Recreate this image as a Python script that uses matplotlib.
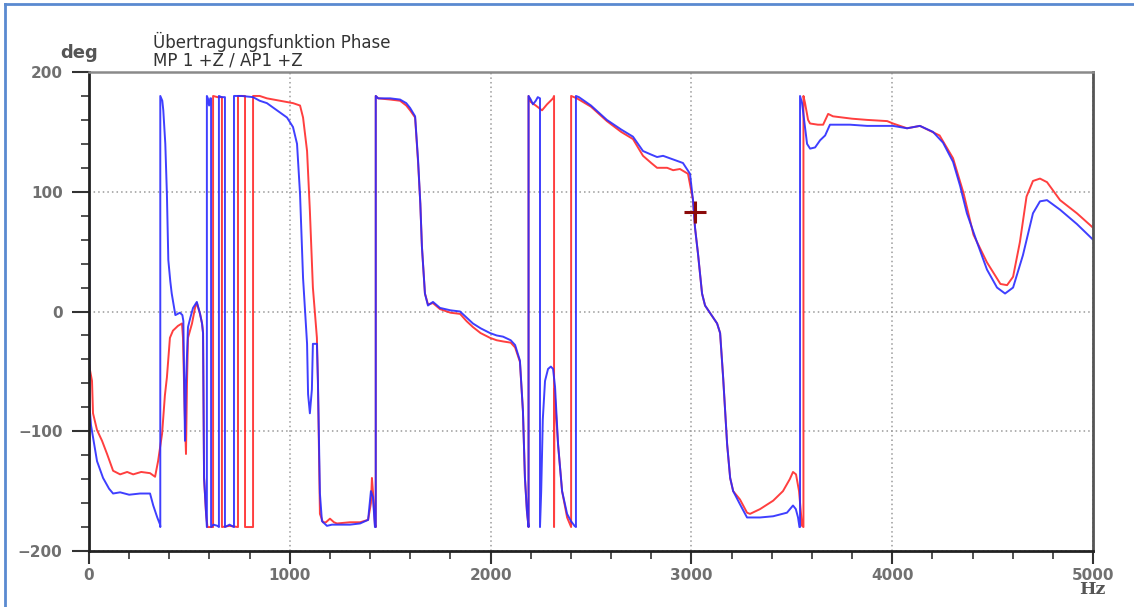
import matplotlib
matplotlib.use('Agg')
import matplotlib.pyplot as plt
from matplotlib.lines import Line2D
import numpy as np

# Frequenz (Hz) und Phase (deg); Sprünge +-180 als Doppelpunkte
blue_f = [0, 3, 10, 20, 40, 70, 100, 120, 155, 200, 254, 304, 320, 340, 354, 355, 355,
          365, 370, 380, 388, 395, 405, 412, 430, 453, 465, 470, 478, 483, 493, 505, 518,
          537, 553, 563, 568, 573, 583, 587, 587, 592, 598, 604, 608, 608, 620, 640, 647,
          647, 660, 677, 677, 700, 722, 722, 760, 817, 850, 886, 936, 986, 1016, 1036,
          1051, 1066, 1086, 1091, 1100, 1105, 1110, 1115, 1135, 1140, 1150, 1160, 1185,
          1210, 1235, 1300, 1350, 1390, 1404, 1414, 1424, 1428, 1428, 1440, 1500, 1549,
          1580, 1599, 1624, 1639, 1650, 1658, 1673, 1688, 1713, 1748, 1800, 1848, 1880,
          1912, 1950, 1997, 2030, 2062, 2100, 2122, 2146, 2161, 2171, 2181, 2189, 2189,
          2200, 2211, 2225, 2235, 2246, 2246, 2252, 2260, 2271, 2286, 2300, 2311, 2321,
          2336, 2356, 2381, 2400, 2418, 2425, 2425, 2440, 2500, 2579, 2650, 2709, 2759,
          2800, 2829, 2859, 2909, 2958, 2993, 3008, 3018, 3033, 3053, 3068, 3100, 3128,
          3143, 3158, 3178, 3193, 3208, 3242, 3277, 3342, 3407, 3476, 3506, 3520, 3531,
          3538, 3541, 3541, 3551, 3566, 3576, 3591, 3616, 3641, 3666, 3690, 3790, 3875,
          4004, 4074, 4138, 4203, 4253, 4303, 4338, 4372, 4422, 4472, 4522, 4562, 4602,
          4651, 4701, 4736, 4771, 4836, 4920, 5000]
blue_p = [120, -80, -95, -105, -125, -139, -148, -152, -151, -153, -152, -152, -162, -172, -178, -180, 180,
          176, 168, 140, 98, 43, 25, 15, -3, -1, -3, -8, -108, -60, -13, -5, 3,
          8, -2, -10, -18, -139, -169, -180, 180, 178, 172, 178, 178, -180, -178, -179, -180,
          180, 179, 179, -180, -178, -180, 180, 180, 179, 176, 174, 168, 162, 154, 140,
          98, 28, -27, -69, -85, -75, -65, -27, -27, -58, -152, -175, -179,
          -178, -178, -178, -177, -174, -150, -155, -180, -180, 180, 178, 178, 177,
          174, 170, 163, 126, 90, 54, 15, 5, 8, 3, 1, 0, -5,
          -10, -14, -18, -20, -21, -24, -28, -41, -83, -139, -167, -180, 180,
          177, 173, 176, 179, 178, -180, -150, -90, -58, -48, -46, -48, -63,
          -111, -150, -169, -175, -179, -180, 180, 179, 172, 160, 152, 146, 134,
          131, 129, 130, 127, 124, 115, 93, 70, 48, 15, 5, -3, -10,
          -18, -55, -111, -139, -150, -161, -172, -172, -171, -168, -162, -165, -172,
          -180, -180, 180, 174, 154, 140, 136, 137, 143, 147, 156, 156, 155,
          155, 153, 155, 150, 141, 125, 105, 82, 58, 35, 20, 15, 20,
          47, 82, 92, 93, 85, 73, 60]

red_f = [2, 5, 15, 20, 40, 65, 90, 120, 155, 190, 220, 260, 304, 329, 344, 364, 378, 388,
         403, 418, 443, 463, 468, 476, 483, 488, 493, 513, 528, 537, 553, 563, 568, 573,
         583, 590, 618, 618, 640, 662, 662, 700, 742, 742, 760, 777, 777, 800, 817, 817,
         850, 886, 951, 1016, 1051, 1066, 1086, 1100, 1115, 1135, 1140, 1150, 1165, 1180,
         1200, 1220, 1235, 1300, 1350, 1390, 1404, 1409, 1414, 1424, 1428, 1428, 1440,
         1500, 1549, 1580, 1599, 1624, 1639, 1650, 1658, 1673, 1688, 1713, 1748, 1800,
         1848, 1880, 1912, 1950, 1997, 2030, 2062, 2100, 2122, 2146, 2161, 2171, 2181,
         2189, 2189, 2200, 2225, 2256, 2281, 2311, 2316, 2316, 2318, 2336, 2356, 2381,
         2396, 2401, 2401, 2430, 2500, 2579, 2650, 2709, 2759, 2800, 2829, 2879, 2909,
         2943, 2983, 3008, 3018, 3033, 3053, 3068, 3100, 3128, 3143, 3158, 3178, 3193,
         3208, 3242, 3277, 3292, 3342, 3407, 3456, 3490, 3506, 3521, 3536, 3551, 3558,
         3558, 3566, 3581, 3591, 3630, 3656, 3681, 3705, 3800, 3875, 3975, 4004, 4074,
         4138, 4236, 4303, 4355, 4405, 4472, 4539, 4572, 4602, 4636, 4669, 4701, 4736,
         4771, 4836, 4920, 5000]
red_p = [-45, -49, -58, -85, -99, -108, -119, -133, -136, -134, -136, -134, -135, -138, -125, -102, -70, -55,
         -22, -16, -12, -10, -22, -80, -119, -60, -22, -10, 3, 7, -2, -10, -18, -139,
         -169, -180, -180, 180, 179, 179, -180, -179, -180, 180, 180, 180, -180, -180, -180, 180,
         180, 178, 176, 174, 172, 162, 134, 84, 20, -22, -58, -169, -176, -176,
         -173, -176, -177, -176, -176, -174, -160, -139, -150, -178, -180, 180, 178,
         177, 176, 172, 168, 162, 124, 90, 54, 15, 6, 7, 2, -1,
         -2, -8, -13, -18, -22, -24, -25, -26, -30, -42, -83, -139, -167,
         -180, 180, 175, 172, 168, 173, 178, 180, -180, -65, -111, -150, -172,
         -178, -180, 180, 178, 171, 159, 150, 144, 130, 124, 120, 120, 118,
         119, 115, 93, 70, 48, 15, 5, -3, -10, -18, -55, -111, -139,
         -150, -157, -168, -169, -165, -158, -150, -140, -134, -136, -150, -179, -180,
         180, 174, 160, 157, 156, 156, 165, 163, 161, 160, 159, 157, 153,
         155, 147, 128, 99, 64, 41, 23, 22, 29, 58, 96, 109, 111,
         108, 93, 82, 70]

cursor_f = [3018]
cursor_p = [83]

fig = plt.figure(figsize=(11.34, 6.07), dpi=100)
ax = fig.add_axes([89 / 1134, 1 - 551 / 607, (1093 - 89) / 1134, (551 - 72) / 607])

ax.plot(red_f, red_p, color='#ff2a2a', lw=1.4, alpha=0.9)
ax.plot(blue_f, blue_p, color='#2a2aff', lw=1.4, alpha=0.9)
ax.plot(cursor_f, cursor_p, marker='+', color='#8b0a0a', ms=16, mew=2.2, ls='none')

ax.set_xlim(0, 5000)
ax.set_ylim(-200, 200)
ax.set_xticks(np.arange(0, 5001, 1000))
ax.set_xticks(np.arange(0, 5001, 200), minor=True)
ax.set_yticks(np.arange(-200, 201, 100))
ax.set_yticks(np.arange(-200, 201, 20), minor=True)

ax.grid(True, which='major', color='#9a9a9a', ls=(0, (1, 2)), lw=1.1)

ax.tick_params(which='major', direction='out', length=12, width=1.5, color='#333333',
               labelsize=11, labelcolor='#707070', pad=7)
ax.tick_params(which='minor', direction='out', length=6, width=1.2, color='#333333')
ax.tick_params(axis='x', which='major', length=9, pad=3)

for lab in ax.get_xticklabels() + ax.get_yticklabels():
    lab.set_fontweight('bold')

ax.spines['left'].set_color('#222222')
ax.spines['left'].set_linewidth(2)
ax.spines['bottom'].set_color('#222222')
ax.spines['bottom'].set_linewidth(2)
ax.spines['top'].set_color('#8a8a8a')
ax.spines['top'].set_linewidth(1.8)
ax.spines['right'].set_color('#555555')
ax.spines['right'].set_linewidth(2)

fig.text(153 / 1134, 1 - 50.5 / 607, 'Übertragungsfunktion Phase\nMP 1 +Z / AP1 +Z',
         fontsize=12, color='#333333', va='center', ha='left', linespacing=0.98)
fig.text(79 / 1134, 1 - 53 / 607, 'deg', fontsize=13, color='#555555',
         va='center', ha='center', fontweight='bold')
fig.text(1092 / 1134, 1 - 590 / 607, 'Hz', fontsize=12.5, color='#555555',
         va='center', ha='center', family='DejaVu Serif', fontweight='bold')

# blauer Rahmen
fig.add_artist(Line2D([5 / 1134, 5 / 1134], [0, 1 - 4 / 607], color='#5a8ad0', lw=2))
fig.add_artist(Line2D([5 / 1134, 1], [1 - 4 / 607, 1 - 4 / 607], color='#5a8ad0', lw=2))

fig.savefig('out.png', dpi=100)
